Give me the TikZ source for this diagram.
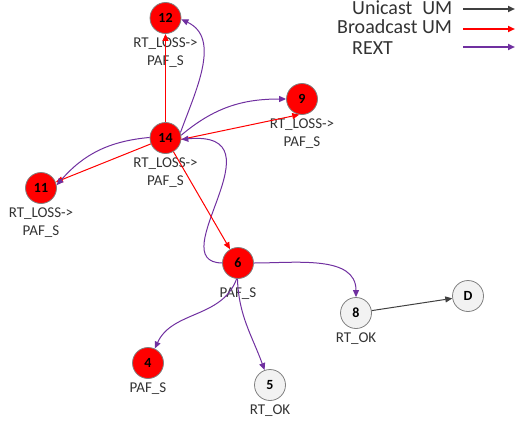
\documentclass[tikz,border=0pt]{standalone}
\usepackage{fontspec}
\setmainfont{Carlito}
\usetikzlibrary{arrows.meta}
\definecolor{umred}{HTML}{FF0000}
\definecolor{rextpurple}{HTML}{7030A0}
\definecolor{ringgray}{HTML}{808080}
\definecolor{okfill}{HTML}{F2F2F2}
\definecolor{txtgray}{HTML}{333333}
\begin{document}
\begin{tikzpicture}[x=1pt,y=1pt,
    lossnode/.style={circle,draw=ringgray,line width=0.8pt,fill=umred,minimum size=31pt,inner sep=0pt,
      font=\fontsize{14}{14}\selectfont\bfseries},
    oknode/.style={lossnode,fill=okfill},
    lbl/.style={font=\fontsize{15}{18}\selectfont,text=txtgray,align=center,label distance=0pt},
    tip/.style={-{Triangle[length=7pt,width=6pt]}},
    bcast/.style={tip,draw=umred,line width=1pt},
    rext/.style={tip,draw=rextpurple,line width=1pt},
    ucast/.style={tip,draw=black!75,line width=1pt},
    legtext/.style={anchor=base west,inner sep=0pt,text=txtgray,font=\fontsize{20}{20}\selectfont}]
  \useasboundingbox (0,0) rectangle (516,-428);

  \node[lossnode,label={[lbl]below:RT\_LOSS->\\PAF\_S}] (n12) at (165.5,-18) {12};
  \node[lossnode,label={[lbl]below:RT\_LOSS->\\PAF\_S}] (n14) at (165.5,-138) {14};
  \node[lossnode,label={[lbl]below:RT\_LOSS->\\PAF\_S}] (n9) at (302,-99) {9};
  \node[lossnode,label={[lbl]below:RT\_LOSS->\\PAF\_S}] (n11) at (41,-188) {11};
  \node[lossnode,label={[lbl,label distance=5pt]below:PAF\_S}] (n6) at (238,-263) {6};
  \node[oknode,label={[lbl]below:RT\_OK}] (n8) at (356,-313) {8};
  \node[oknode] (nD) at (468,-296) {D};
  \node[lossnode,label={[lbl]below:PAF\_S}] (n4) at (148,-363) {4};
  \node[oknode,label={[lbl]below:RT\_OK}] (n5) at (270,-385) {5};

  \draw[bcast] (n14) -- (n12);
  \draw[rext] (n14.20) to[out=70,in=-25] (n12.-5);
  \draw[rext] (n14.10) to[out=40,in=180] (n9);
  \draw[bcast] (n14.-5) -- (n9.260);
  \draw[rext] (n6.west) .. controls (160,-262) and (285,-130) .. (n14.-5);
  \draw[bcast] (n14) -- (n6);
  \draw[bcast] (n14) -- (n11);
  \draw[rext] (n14.178) to[bend right=22] (n11.10);
  \draw[rext] (n6) to[out=0,in=90] (n8);
  \draw[rext] (n6.-92) to[out=-88,in=110] (n5);
  \draw[rext] (n6.-95) to[out=-110,in=65] (n4);
  \draw[ucast] (n8) -- (nD);

  \node[legtext] (legUni) at (352,-15) {Unicast\hspace{0.5em}UM};
  \node[legtext] (legBc) at (337,-34) {Broadcast UM};
  \node[legtext] (legRext) at (352,-55) {REXT};
  \coordinate (uniA) at (463,-9);
  \coordinate (uniB) at (515,-9);
  \coordinate (bcA) at (463,-29);
  \coordinate (bcB) at (515,-29);
  \coordinate (rextA) at (463,-47);
  \coordinate (rextB) at (515,-47);
  \draw[ucast,line width=1.8pt] (uniA) -- (uniB);
  \draw[bcast,line width=1.8pt] (bcA) -- (bcB);
  \draw[rext,line width=1.8pt] (rextA) -- (rextB);
\end{tikzpicture}
\end{document}
